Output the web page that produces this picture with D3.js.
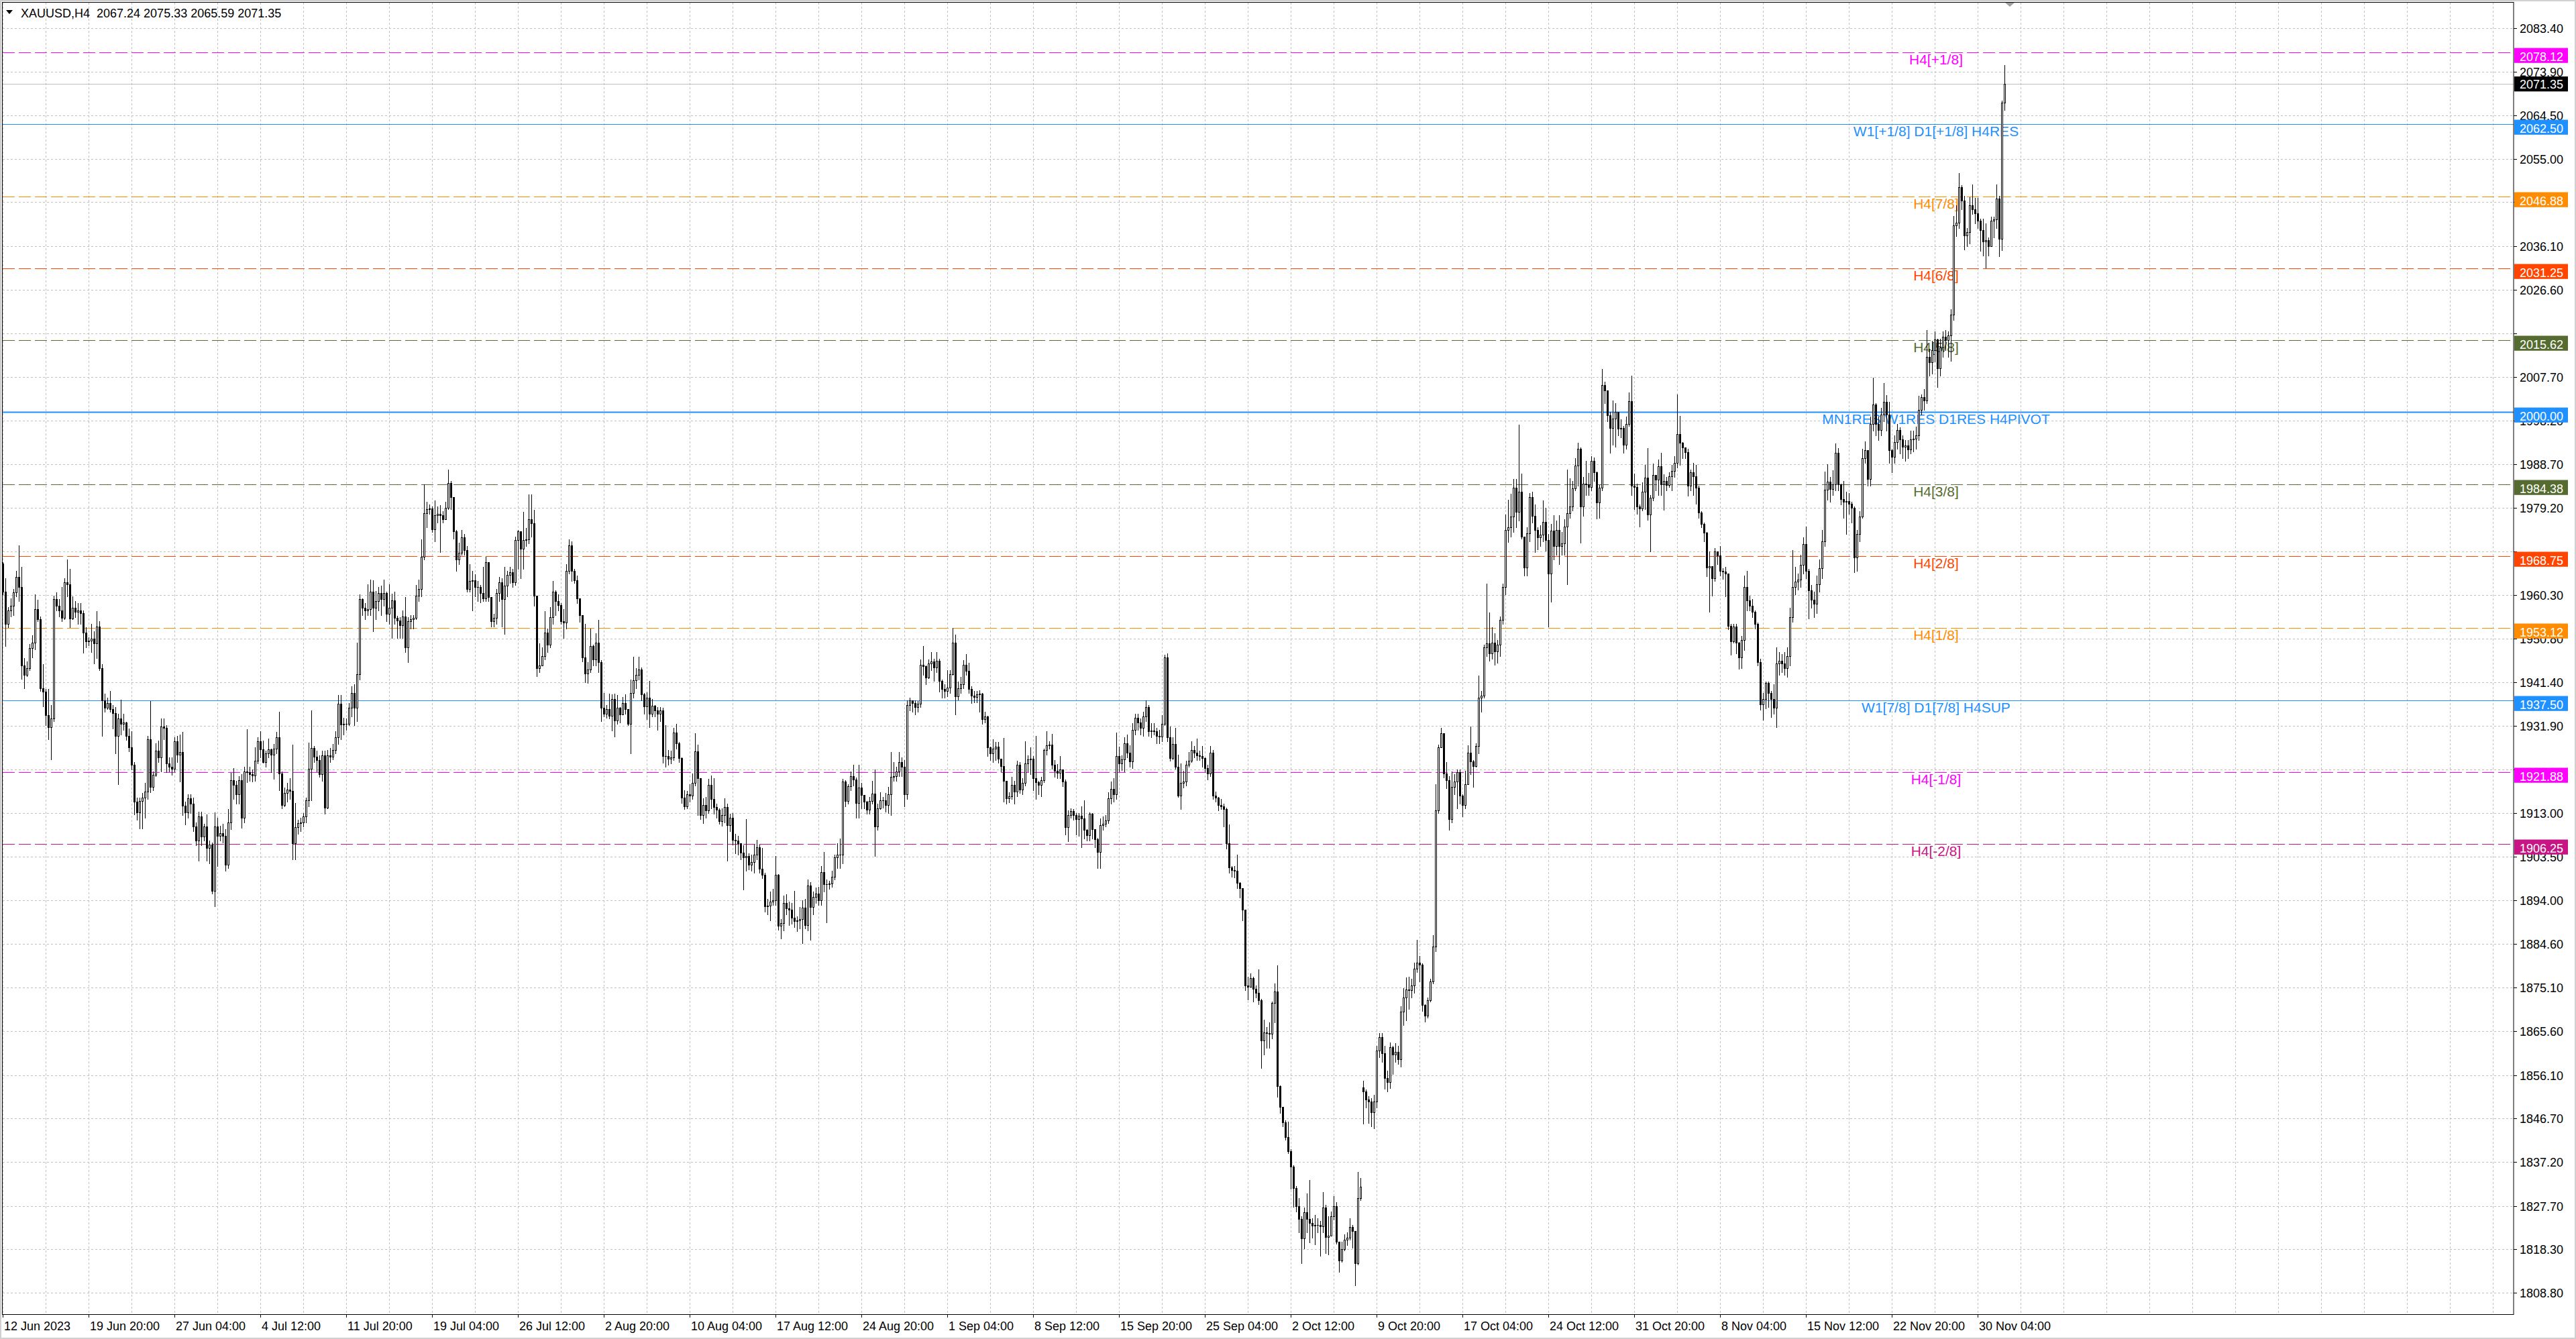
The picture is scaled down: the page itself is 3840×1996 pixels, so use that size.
<!DOCTYPE html>
<html>
<head>
<meta charset="utf-8">
<title>XAUUSD,H4</title>
<script src="https://cdn.jsdelivr.net/npm/d3@7"></script>
<style>
  html, body { margin: 0; padding: 0; background: #fff; overflow: hidden; }
</style>
</head>
<body>
<svg id="chart" width="3840" height="1996"></svg>
<script>
// ---- data ----
const symbolTitle = "XAUUSD,H4  2067.24 2075.33 2065.59 2071.35";
const lastPrice = 2071.35;
const firstOpen = 1967.2;
// weekend gap: the bar that did not open at the previous close
const gapBars = [507];
const gapOpens = [1853.4];

const closes = [
1961.1,1954.1,1957.0,1958.0,1960.9,1964.3,1962.0,1945.0,1943.0,1944.5,
1948.8,1949.9,1957.2,1955.1,1940.0,1939.3,1934.3,1931.6,1933.5,1959.5,
1958.0,1956.9,1955.4,1963.1,1962.6,1955.2,1957.5,1956.6,1957.0,1956.4,
1952.2,1950.2,1950.4,1950.9,1949.8,1953.4,1944.5,1937.4,1935.8,1936.9,
1935.6,1934.7,1929.8,1933.5,1932.3,1932.6,1929.7,1927.3,1923.4,1915.4,
1913.1,1915.6,1916.4,1917.6,1929.0,1918.7,1921.3,1926.5,1925.1,1931.8,
1931.5,1923.7,1923.0,1922.6,1928.5,1925.6,1926.3,1914.6,1913.1,1916.2,
1915.0,1910.0,1907.0,1912.3,1907.9,1910.0,1905.4,1906.2,1896.1,1910.1,
1908.1,1908.6,1908.1,1901.7,1910.9,1920.1,1919.1,1917.0,1920.1,1912.0,
1922.0,1921.8,1921.4,1921.2,1924.3,1928.5,1926.8,1924.1,1925.9,1926.8,
1925.6,1927.0,1929.4,1921.6,1914.8,1917.4,1918.1,1917.8,1906.5,1909.9,
1910.8,1910.9,1912.3,1915.7,1922.6,1927.1,1925.2,1924.5,1921.4,1925.5,
1914.2,1925.5,1925.2,1926.6,1929.4,1936.7,1932.2,1932.4,1932.4,1935.8,
1939.0,1935.8,1943.2,1959.4,1957.5,1956.9,1957.2,1961.0,1957.6,1959.0,
1960.7,1959.5,1960.7,1956.2,1957.6,1959.2,1955.4,1954.8,1953.7,1955.7,
1948.9,1954.7,1955.0,1955.4,1960.2,1961.6,1968.6,1978.1,1978.9,1979.1,
1974.6,1977.7,1977.9,1977.6,1976.7,1979.3,1984.7,1981.6,1974.1,1968.1,
1969.5,1972.9,1970.0,1961.6,1963.3,1963.5,1962.1,1962.0,1960.8,1959.6,
1967.4,1959.9,1954.6,1955.4,1960.8,1963.1,1959.5,1962.4,1964.7,1965.2,
1963.1,1972.2,1974.1,1970.4,1972.2,1972.4,1976.7,1975.9,1960.2,1944.4,
1945.0,1947.0,1952.1,1949.6,1955.5,1961.0,1959.0,1958.1,1954.7,1954.3,
1965.6,1971.1,1965.6,1963.5,1959.6,1956.0,1946.8,1943.3,1944.2,1949.3,
1946.4,1949.9,1945.7,1935.8,1934.6,1935.5,1934.1,1937.8,1933.1,1935.8,
1934.4,1936.8,1935.6,1932.4,1939.1,1941.8,1943.0,1944.2,1938.7,1936.2,
1938.1,1934.5,1936.3,1935.2,1934.5,1935.2,1925.4,1925.3,1924.8,1925.0,
1930.5,1928.1,1924.9,1916.4,1914.5,1917.0,1916.8,1919.6,1926.4,1920.6,
1912.5,1914.7,1913.5,1919.1,1916.1,1914.3,1913.7,1911.2,1912.5,1914.3,
1910.4,1911.9,1907.2,1907.0,1906.5,1904.4,1903.4,1903.6,1901.7,1902.3,
1904.0,1905.5,1900.9,1899.6,1892.8,1892.9,1893.7,1894.0,1899.6,1888.5,
1889.1,1893.4,1892.3,1892.0,1890.3,1889.6,1889.7,1890.0,1892.5,1888.7,
1897.3,1892.6,1894.8,1895.5,1894.1,1900.1,1897.5,1897.6,1897.7,1899.1,
1903.3,1903.9,1904.0,1919.8,1915.6,1918.8,1921.0,1920.3,1915.2,1918.5,
1916.9,1915.4,1913.7,1915.6,1917.2,1910.1,1914.0,1915.8,1915.7,1914.7,
1917.1,1920.8,1921.0,1922.0,1924.0,1923.0,1917.1,1936.5,1937.5,1936.8,
1936.0,1936.7,1945.2,1944.9,1942.4,1945.4,1945.9,1944.6,1946.0,1941.7,
1939.9,1939.5,1940.2,1943.1,1950.0,1938.3,1940.0,1941.0,1945.2,1943.9,
1939.9,1938.4,1938.2,1938.7,1938.9,1933.4,1933.9,1927.3,1925.9,1926.9,
1927.4,1924.8,1923.2,1920.0,1916.2,1916.6,1919.1,1917.6,1923.5,1918.1,
1919.6,1923.7,1924.7,1924.8,1920.5,1919.7,1919.1,1920.1,1926.6,1927.7,
1927.8,1923.5,1922.2,1921.7,1922.4,1919.8,1909.9,1912.5,1913.4,1912.5,
1911.7,1912.4,1911.8,1909.4,1908.2,1912.8,1909.5,1907.3,1904.5,1910.3,
1910.6,1911.4,1916.2,1918.2,1917.0,1925.4,1923.7,1924.7,1928.2,1926.1,
1924.2,1931.1,1933.6,1932.7,1931.5,1933.9,1936.0,1930.8,1930.9,1930.7,
1929.8,1929.6,1932.4,1946.8,1929.4,1924.9,1928.0,1923.1,1916.8,1919.5,
1919.9,1923.5,1924.4,1926.7,1926.1,1925.5,1925.3,1924.9,1922.8,1921.6,
1926.1,1916.8,1916.3,1914.7,1914.5,1913.8,1906.4,1901.2,1900.6,1900.5,
1897.8,1896.7,1892.0,1875.6,1875.3,1877.1,1874.9,1874.0,1872.4,1863.6,
1865.4,1865.2,1865.0,1871.7,1874.2,1853.7,1849.2,1845.9,1842.6,1839.6,
1836.3,1831.6,1827.6,1824.9,1820.6,1826.4,1824.9,1824.0,1823.4,1823.6,
1823.5,1823.3,1827.3,1821.0,1821.2,1825.5,1827.6,1819.9,1815.9,1818.3,
1820.4,1820.8,1823.1,1822.2,1815.3,1829.4,1831.8,1852.5,1850.8,1850.4,
1848.0,1850.4,1861.5,1864.3,1860.9,1855.5,1854.6,1862.1,1860.5,1861.2,
1859.6,1869.9,1872.9,1874.7,1874.5,1875.6,1879.2,1880.5,1880.1,1871.3,
1869.0,1872.4,1876.5,1884.0,1913.6,1927.3,1930.3,1921.6,1920.1,1911.6,
1918.6,1919.9,1921.9,1916.7,1914.7,1919.3,1926.1,1924.2,1923.2,1927.6,
1938.1,1938.5,1948.9,1949.8,1947.7,1950.0,1948.1,1949.5,1954.9,1962.1,
1974.4,1975.0,1977.3,1983.6,1978.3,1982.7,1973.0,1966.3,1973.7,1981.6,
1977.5,1974.4,1972.8,1973.4,1976.2,1972.3,1965.0,1974.3,1971.0,1974.4,
1971.0,1971.5,1975.2,1978.1,1979.5,1983.5,1988.4,1992.0,1979.5,1984.5,
1984.3,1983.8,1989.5,1986.9,1980.4,1983.6,2005.9,2004.8,1999.4,1996.6,
1998.6,2000.1,1996.4,1996.6,1993.0,1997.5,2002.4,1984.1,1983.8,1979.6,
1979.1,1982.8,1985.8,1977.8,1981.4,1986.4,1985.4,1988.2,1984.3,1985.1,
1984.2,1986.1,1987.3,1989.0,1995.2,1993.3,1992.3,1991.4,1984.1,1986.9,
1986.1,1983.6,1978.2,1975.8,1973.8,1966.3,1966.6,1964.0,1969.8,1968.9,
1965.6,1965.4,1965.0,1953.6,1950.3,1953.5,1950.0,1946.8,1950.6,1962.0,
1959.1,1958.0,1956.7,1954.0,1945.8,1936.6,1937.8,1941.2,1939.0,1937.8,
1935.8,1945.5,1946.1,1945.5,1944.4,1947.1,1955.5,1962.0,1963.2,1963.7,
1966.8,1971.4,1965.6,1961.3,1959.3,1958.4,1962.6,1966.1,1971.9,1983.2,
1984.9,1983.3,1984.4,1991.2,1984.4,1981.1,1980.6,1980.7,1980.1,1979.2,
1968.5,1973.6,1977.4,1990.0,1991.7,1985.5,1997.5,2001.6,1997.4,1996.1,
1999.5,2002.2,1999.5,1991.7,1990.3,1993.5,1996.1,1994.1,1992.5,1992.8,
1991.9,1994.1,1994.3,1994.9,2000.5,2003.3,2002.5,2012.0,2010.9,2013.5,
2015.8,2009.6,2014.0,2016.4,2015.6,2016.7,2021.2,2040.6,2041.2,2048.8,
2045.9,2038.4,2039.1,2044.9,2044.0,2043.2,2041.5,2039.6,2037.0,2037.4,
2036.0,2041.5,2041.8,2046.4,2037.7,2067.24,2071.35
];

const highs = [
1967.5,1964.0,1957.7,1959.6,1961.6,1965.5,1971.1,1966.4,1946.6,1945.9,
1949.7,1951.6,1960.5,1959.3,1955.7,1945.3,1939.9,1939.9,1936.5,1960.2,
1960.9,1959.5,1962.0,1964.0,1968.0,1966.0,1960.0,1959.0,1958.5,1958.6,
1957.0,1953.3,1951.2,1954.1,1952.4,1956.8,1954.6,1945.3,1938.9,1938.0,
1939.5,1936.5,1936.0,1934.5,1937.6,1934.5,1932.8,1931.3,1930.8,1924.1,
1916.4,1916.4,1917.3,1919.5,1929.7,1937.3,1922.0,1928.1,1928.7,1933.5,
1933.5,1932.0,1925.0,1925.0,1929.5,1929.7,1930.0,1930.6,1915.5,1917.0,
1917.0,1916.4,1911.0,1913.3,1913.3,1910.7,1912.7,1907.0,1906.6,1913.1,
1912.0,1910.2,1910.7,1909.5,1913.8,1921.7,1922.8,1920.0,1921.0,1921.5,
1923.0,1931.2,1923.0,1922.5,1927.2,1929.5,1930.8,1928.7,1926.5,1929.2,
1927.0,1928.0,1930.6,1935.0,1922.0,1918.5,1919.5,1920.5,1927.8,1915.2,
1911.5,1912.0,1913.0,1916.3,1928.3,1935.2,1927.6,1926.5,1925.5,1926.5,
1926.5,1926.6,1927.1,1928.0,1930.7,1938.6,1938.6,1933.6,1933.5,1936.8,
1940.5,1941.0,1950.0,1960.4,1959.6,1958.5,1962.6,1963.6,1963.5,1961.2,
1962.0,1962.3,1963.6,1961.0,1962.6,1960.6,1961.0,1955.8,1955.5,1957.0,
1959.9,1955.5,1956.0,1956.0,1962.5,1963.6,1972.4,1984.4,1980.5,1980.0,
1979.6,1980.8,1979.6,1979.8,1978.5,1980.5,1987.5,1985.0,1981.4,1974.5,
1971.7,1974.5,1973.6,1971.0,1967.0,1965.5,1964.8,1963.4,1962.5,1966.5,
1968.6,1967.5,1959.9,1956.3,1961.6,1964.3,1964.0,1966.4,1965.5,1966.5,
1966.0,1973.0,1974.5,1974.2,1978.3,1974.9,1982.2,1982.2,1978.8,1960.2,
1949.8,1949.0,1956.8,1953.0,1957.7,1963.4,1961.4,1960.4,1958.5,1957.3,
1967.0,1972.4,1972.0,1966.0,1964.5,1959.4,1956.0,1954.0,1945.7,1953.0,
1949.5,1952.0,1954.9,1946.2,1939.0,1936.5,1938.9,1938.7,1938.9,1938.6,
1936.0,1938.2,1938.8,1935.4,1942.0,1946.9,1944.5,1946.9,1944.6,1939.0,
1939.2,1941.7,1937.8,1936.5,1936.0,1936.0,1935.8,1932.0,1926.6,1926.5,
1931.5,1932.4,1928.4,1925.0,1918.0,1917.8,1919.3,1921.6,1930.3,1927.8,
1920.6,1916.2,1916.5,1920.4,1921.2,1920.6,1915.0,1914.0,1914.0,1916.2,
1915.0,1912.8,1913.0,1908.5,1908.0,1906.5,1906.0,1911.7,1904.2,1904.0,
1906.1,1907.1,1906.1,1905.4,1900.0,1894.3,1896.0,1896.5,1903.6,1899.8,
1890.0,1895.0,1895.4,1893.8,1893.5,1896.1,1890.5,1892.6,1894.0,1894.3,
1898.5,1898.0,1896.0,1896.8,1897.0,1901.5,1904.6,1898.5,1898.3,1900.5,
1904.0,1906.5,1907.5,1920.4,1920.1,1919.3,1922.0,1923.4,1920.7,1923.4,
1919.6,1916.8,1915.6,1916.5,1920.0,1922.5,1915.0,1917.5,1916.5,1917.4,
1918.7,1926.2,1924.0,1923.0,1926.3,1925.0,1924.5,1937.5,1938.1,1937.5,
1937.5,1937.3,1946.3,1949.2,1945.0,1946.3,1947.9,1946.5,1947.9,1946.5,
1942.0,1941.0,1944.0,1944.0,1953.2,1951.7,1941.5,1942.5,1946.2,1947.5,
1945.6,1940.5,1939.5,1939.5,1939.6,1939.1,1935.0,1934.1,1927.4,1929.0,
1928.4,1928.4,1924.8,1929.3,1920.0,1917.5,1920.8,1920.0,1924.4,1924.0,
1920.5,1928.6,1925.5,1927.3,1925.4,1929.7,1920.0,1920.8,1927.0,1930.8,
1928.5,1930.2,1924.5,1923.6,1925.4,1922.5,1920.2,1913.5,1914.0,1913.8,
1913.0,1913.0,1914.5,1915.8,1909.5,1913.2,1913.0,1909.5,1907.6,1911.8,
1912.2,1912.6,1917.5,1919.8,1920.6,1930.5,1927.4,1925.5,1929.5,1930.0,
1927.7,1932.5,1934.5,1934.5,1933.5,1935.0,1937.5,1936.4,1932.5,1932.5,
1931.5,1931.0,1934.2,1947.4,1947.6,1931.7,1929.5,1931.5,1925.7,1923.7,
1922.2,1924.4,1926.2,1928.6,1927.6,1929.2,1926.5,1927.6,1925.0,1923.5,
1927.6,1926.6,1917.6,1916.5,1916.0,1915.0,1914.2,1910.5,1901.5,1901.5,
1904.0,1898.0,1896.7,1892.0,1877.4,1878.2,1877.5,1875.5,1879.0,1872.6,
1868.2,1866.5,1867.5,1872.0,1876.0,1879.9,1853.8,1848.3,1846.3,1846.0,
1840.0,1836.5,1832.0,1829.4,1825.5,1827.3,1830.4,1833.3,1825.0,1825.7,
1825.0,1824.5,1830.7,1828.0,1825.4,1826.5,1829.8,1828.5,1820.0,1820.0,
1821.5,1822.0,1825.0,1823.5,1822.3,1835.1,1833.8,1854.9,1853.0,1851.5,
1851.1,1851.8,1862.5,1865.2,1865.2,1862.5,1857.0,1863.2,1862.5,1863.0,
1862.5,1871.0,1875.0,1877.3,1877.5,1877.0,1880.5,1885.4,1882.0,1880.3,
1871.5,1873.0,1877.0,1886.5,1919.3,1927.9,1931.5,1928.6,1924.0,1921.0,
1922.0,1921.5,1922.5,1922.5,1917.0,1922.1,1927.7,1931.7,1924.5,1928.1,
1942.8,1939.5,1949.5,1962.8,1956.5,1953.3,1952.0,1950.5,1955.7,1962.8,
1977.8,1981.0,1982.3,1985.5,1985.5,1997.3,1986.7,1972.0,1975.0,1982.5,
1982.8,1980.0,1975.0,1975.5,1980.9,1979.2,1973.5,1975.7,1977.6,1976.5,
1977.6,1974.0,1976.7,1987.5,1985.7,1985.0,1990.0,1993.4,1992.4,1986.0,
1989.5,1986.8,1990.5,1990.1,1987.1,1984.2,2009.4,2006.6,2004.6,2000.0,
2002.5,2002.0,1999.0,1998.5,1997.0,1999.0,2004.3,2008.0,1986.7,1984.5,
1980.0,1984.8,1988.5,1992.2,1982.0,1988.9,1986.4,1989.7,1991.2,1986.5,
1986.0,1987.0,1988.5,1990.5,2003.9,1999.2,1993.5,1992.3,1992.0,1987.5,
1989.0,1988.5,1984.0,1978.5,1976.0,1974.0,1969.8,1966.6,1970.5,1969.7,
1971.0,1966.2,1966.5,1965.0,1954.0,1954.0,1954.0,1950.1,1951.5,1964.5,
1965.5,1960.1,1959.5,1957.0,1954.3,1946.5,1939.0,1941.5,1941.5,1939.5,
1941.0,1949.0,1948.0,1947.5,1948.0,1949.0,1957.5,1970.0,1966.5,1965.0,
1969.0,1972.9,1975.2,1966.0,1962.5,1961.0,1964.5,1968.0,1974.5,1987.1,
1988.7,1986.0,1987.4,1993.2,1992.2,1984.5,1985.0,1982.8,1982.5,1980.5,
1979.5,1974.5,1978.5,1992.0,1993.6,1991.7,1999.0,2007.5,2002.0,1999.0,
2001.0,2006.4,2003.7,2002.2,1992.0,1995.0,1997.5,1996.7,1995.0,1994.0,
1994.0,1996.0,1996.0,1996.8,2003.6,2003.9,2005.0,2017.8,2013.7,2015.5,
2017.5,2016.0,2016.0,2017.5,2017.8,2017.6,2022.4,2042.6,2044.9,2051.9,
2049.3,2047.0,2040.0,2046.6,2049.4,2046.5,2046.5,2042.0,2042.0,2041.0,
2038.0,2042.5,2042.5,2049.5,2047.0,2067.6,2075.33
];

const lows = [
1960.5,1949.2,1953.3,1955.7,1956.0,1960.0,1959.0,1942.1,1940.0,1942.7,
1944.0,1946.8,1948.5,1954.7,1939.5,1936.1,1932.1,1929.0,1924.7,1933.0,
1957.0,1955.7,1954.7,1955.0,1960.0,1953.3,1955.0,1955.5,1954.0,1954.0,
1947.8,1949.0,1949.4,1947.9,1945.4,1946.6,1944.0,1929.7,1935.0,1935.5,
1935.0,1931.4,1926.0,1919.3,1930.0,1931.0,1928.9,1926.4,1922.5,1912.7,
1911.5,1909.6,1909.6,1912.0,1916.0,1917.5,1918.0,1921.0,1924.0,1922.0,
1929.0,1921.8,1922.0,1921.3,1922.0,1924.0,1919.8,1912.5,1910.5,1912.0,
1913.0,1909.0,1906.0,1902.7,1906.0,1907.0,1902.7,1902.0,1895.5,1892.8,
1901.5,1907.0,1906.6,1900.5,1901.0,1909.5,1916.0,1915.0,1915.0,1909.8,
1911.0,1919.7,1920.0,1919.8,1920.0,1923.8,1925.0,1923.9,1923.0,1925.0,
1921.8,1920.4,1926.0,1918.0,1914.0,1914.5,1915.5,1916.0,1902.9,1902.9,
1908.5,1909.0,1910.0,1911.0,1914.5,1915.8,1924.0,1922.0,1920.9,1920.0,
1912.8,1914.0,1924.0,1924.7,1926.0,1928.0,1929.0,1930.0,1931.0,1932.0,
1934.0,1932.0,1933.0,1942.0,1956.0,1955.0,1956.0,1956.0,1952.5,1955.0,
1957.0,1956.0,1958.0,1954.6,1954.0,1951.0,1954.0,1951.0,1951.0,1951.0,
1948.0,1945.7,1953.0,1953.0,1955.0,1959.0,1960.0,1968.0,1975.0,1978.0,
1974.0,1972.0,1976.0,1969.7,1976.0,1977.0,1979.0,1979.0,1972.5,1965.5,
1967.0,1969.0,1969.0,1961.0,1961.0,1956.9,1960.0,1959.0,1958.7,1959.0,
1959.0,1959.0,1953.4,1953.4,1954.0,1959.0,1953.5,1951.8,1960.0,1963.0,
1962.0,1962.5,1966.0,1963.9,1966.0,1971.0,1971.5,1973.0,1958.0,1942.7,
1943.6,1945.0,1946.4,1948.0,1949.0,1954.0,1956.0,1957.0,1954.0,1951.0,
1953.0,1965.0,1963.4,1963.0,1958.6,1954.5,1945.9,1941.4,1941.3,1943.5,
1945.0,1945.0,1943.6,1932.9,1934.0,1933.7,1933.5,1930.9,1929.6,1932.3,
1932.6,1935.0,1934.6,1932.0,1925.9,1938.0,1940.0,1942.0,1937.5,1934.5,
1933.4,1931.6,1934.0,1934.0,1931.1,1933.0,1923.9,1923.1,1923.5,1923.7,
1924.5,1927.0,1924.0,1915.1,1913.9,1914.0,1915.5,1916.0,1919.0,1912.6,
1911.6,1910.8,1912.0,1913.0,1914.0,1912.8,1912.0,1910.6,1910.2,1911.0,
1902.7,1909.0,1906.2,1904.3,1904.0,1903.0,1896.4,1900.4,1900.8,1900.5,
1900.0,1903.0,1900.0,1898.9,1891.6,1891.0,1889.7,1893.0,1893.0,1887.6,
1885.7,1887.5,1891.0,1888.6,1889.0,1888.2,1887.4,1888.0,1884.8,1887.9,
1887.5,1885.5,1891.0,1893.5,1893.0,1893.0,1896.0,1889.2,1896.6,1897.0,
1898.5,1901.0,1901.0,1902.0,1914.4,1915.0,1918.0,1919.0,1911.9,1911.9,
1914.0,1914.0,1912.8,1912.9,1915.0,1903.6,1909.4,1913.9,1914.2,1913.3,
1913.0,1912.6,1920.0,1920.0,1921.0,1921.0,1914.4,1916.0,1935.2,1934.9,
1934.4,1935.0,1936.0,1943.0,1941.0,1942.3,1944.0,1941.6,1943.5,1939.3,
1938.0,1938.0,1938.3,1939.0,1943.0,1934.4,1937.6,1939.0,1940.0,1943.0,
1939.0,1936.8,1937.0,1937.0,1935.0,1932.3,1932.6,1925.3,1924.5,1924.0,
1924.5,1923.9,1922.0,1915.4,1915.0,1915.3,1916.0,1915.0,1916.6,1917.3,
1917.1,1919.0,1922.0,1921.5,1918.0,1916.1,1917.0,1916.6,1919.7,1925.6,
1927.0,1922.6,1920.9,1920.6,1920.5,1918.8,1908.3,1906.8,1912.0,1911.5,
1908.3,1908.0,1905.6,1907.5,1907.0,1907.0,1907.5,1905.5,1901.1,1901.1,
1909.3,1910.0,1910.8,1915.0,1915.5,1916.0,1922.0,1922.3,1922.0,1925.0,
1923.0,1922.8,1930.0,1931.0,1930.0,1929.8,1933.0,1929.8,1929.5,1930.0,
1928.2,1928.1,1928.5,1932.0,1928.5,1924.4,1924.6,1922.6,1916.5,1913.9,
1918.5,1919.0,1923.0,1924.0,1925.0,1924.5,1924.5,1923.0,1922.0,1920.2,
1921.0,1916.0,1915.5,1913.5,1913.8,1910.0,1905.2,1900.0,1899.2,1899.0,
1896.7,1894.7,1889.7,1874.5,1872.5,1875.5,1872.0,1873.0,1871.5,1857.7,
1860.5,1862.0,1862.0,1864.0,1867.5,1851.4,1847.9,1845.0,1842.0,1839.2,
1831.5,1827.5,1826.5,1821.9,1815.2,1818.5,1822.0,1819.8,1820.8,1819.3,
1822.0,1816.9,1822.0,1817.4,1817.2,1821.5,1824.7,1819.5,1813.4,1815.5,
1818.0,1819.2,1820.4,1818.6,1810.5,1815.0,1829.0,1845.6,1849.0,1845.7,
1845.0,1844.6,1849.0,1860.0,1859.0,1853.2,1852.5,1853.3,1856.4,1859.0,
1858.5,1858.0,1867.0,1868.0,1870.5,1873.0,1874.0,1878.5,1876.5,1870.0,
1867.7,1868.5,1872.0,1876.0,1883.0,1913.0,1927.3,1920.7,1918.3,1909.3,
1911.0,1917.0,1914.0,1915.0,1912.3,1914.0,1919.3,1921.5,1918.6,1923.0,
1926.0,1935.0,1938.0,1947.0,1946.0,1946.5,1945.2,1945.6,1947.0,1954.0,
1960.5,1971.8,1973.0,1974.0,1975.0,1976.5,1972.5,1964.5,1964.5,1972.0,
1976.0,1969.7,1970.2,1971.0,1972.0,1969.9,1953.4,1958.9,1968.0,1969.0,
1967.0,1969.0,1969.0,1962.6,1977.0,1978.6,1983.0,1984.0,1971.7,1977.5,
1982.0,1982.0,1983.0,1985.0,1976.9,1977.0,1983.0,2002.0,1998.0,1991.2,
1993.0,1992.5,1995.0,1994.6,1991.2,1992.0,1997.0,1982.0,1978.9,1978.0,
1975.1,1978.7,1979.0,1976.6,1969.8,1980.8,1983.0,1982.0,1982.0,1978.8,
1983.0,1983.8,1983.0,1986.0,1988.0,1988.6,1990.0,1990.0,1981.9,1983.0,
1982.0,1980.1,1977.0,1975.0,1972.0,1964.4,1956.7,1960.2,1963.4,1967.0,
1964.6,1963.8,1960.0,1952.9,1947.3,1950.0,1947.6,1944.3,1944.5,1948.4,
1957.0,1956.9,1955.5,1953.0,1945.0,1935.4,1933.2,1935.7,1936.0,1933.8,
1934.5,1931.6,1943.0,1943.5,1943.0,1942.5,1945.0,1954.5,1960.5,1961.5,
1962.0,1965.0,1964.0,1955.2,1957.5,1955.5,1956.4,1961.0,1964.0,1971.0,
1981.0,1980.5,1982.0,1983.0,1983.0,1980.0,1977.0,1973.6,1978.0,1976.0,
1965.3,1965.6,1972.0,1977.0,1989.0,1984.0,1984.0,1996.0,1995.0,1994.0,
1995.0,1998.0,1996.0,1989.0,1986.9,1989.0,1992.0,1991.0,1990.0,1989.5,
1990.0,1991.0,1991.5,1992.0,1994.0,1999.5,2000.5,2002.0,2008.0,2008.4,
2011.0,2005.5,2008.0,2012.0,2013.5,2012.0,2011.2,2020.0,2038.2,2040.0,
2044.0,2035.3,2036.0,2036.6,2043.0,2041.0,2040.0,2035.0,2034.0,2031.4,
2034.0,2036.0,2038.0,2040.0,2033.9,2035.2,2065.59
];

const priceTicks = [
2083.40,2073.90,2064.50,2055.00,2045.60,2036.10,2026.60,2017.10,2007.70,1998.20,
1988.70,1979.20,1969.80,1960.30,1950.80,1941.40,1931.90,1922.40,1913.00,1903.50,
1894.00,1884.60,1875.10,1865.60,1856.10,1846.70,1837.20,1827.70,1818.30,1808.80
];

// one label every 32 bars, starting at the first bar
const dateLabels = [
"12 Jun 2023","19 Jun 20:00","27 Jun 04:00","4 Jul 12:00","11 Jul 20:00","19 Jul 04:00",
"26 Jul 12:00","2 Aug 20:00","10 Aug 04:00","17 Aug 12:00","24 Aug 20:00","1 Sep 04:00",
"8 Sep 12:00","15 Sep 20:00","25 Sep 04:00","2 Oct 12:00","9 Oct 20:00","17 Oct 04:00",
"24 Oct 12:00","31 Oct 20:00","8 Nov 04:00","15 Nov 12:00","22 Nov 20:00","30 Nov 04:00"
];

// Murrey-math style levels drawn by the indicator
const levelPrices = [2078.12,2062.50,2046.88,2031.25,2015.62,2000.00,1984.38,1968.75,1953.12,1937.50,1921.88,1906.25];
const levelNames = ["H4[+1/8]","W1[+1/8] D1[+1/8] H4RES","H4[7/8]","H4[6/8]","H4[5/8]",
  "MN1RES W1RES D1RES H4PIVOT","H4[3/8]","H4[2/8]","H4[1/8]","W1[7/8] D1[7/8] H4SUP","H4[-1/8]","H4[-2/8]"];
const levelColors = ["#FF00FF","#1E90FF","#FF8C00","#FF4500","#556B2F","#1E90FF",
  "#556B2F","#FF4500","#FF8C00","#1E90FF","#FF00FF","#C71585"];
const levelSolid = [false,true,false,false,false,true,false,false,false,true,false,false];

// ---- layout ----
const plotL = 4, plotT = 4, plotR = 3747, plotB = 1959;
const barStep = 4;
const labelFont = "'Liberation Sans', Arial, sans-serif";

const svg = d3.select('#chart');

const x = d3.scaleLinear()
  .domain([0, closes.length - 1])
  .range([plotL, plotL + barStep * (closes.length - 1)]);
const y = d3.scaleLinear()
  .domain([1804.2, 2088.9])
  .range([plotB, plotT]);

const px = i => Math.round(x(i));
const py = v => Math.round(y(v));

const bars = closes.map((c, i) => {
  let o = i === 0 ? firstOpen : closes[i - 1];
  const g = gapBars.indexOf(i);
  if (g >= 0) o = gapOpens[g];
  return { i: i, o: o, h: highs[i], l: lows[i], c: c };
});

svg.append('rect')
  .attr('width', 3840).attr('height', 1996)
  .attr('fill', '#fff');

svg.append('defs').append('clipPath').attr('id', 'plotClip')
  .append('rect')
  .attr('x', plotL).attr('y', plotT)
  .attr('width', plotR - plotL).attr('height', plotB - plotT);

// grid
const grid = svg.append('g')
  .attr('stroke', '#c0c0c0')
  .attr('stroke-width', 1)
  .attr('stroke-dasharray', '3,3');

grid.selectAll('line.v')
  .data(d3.range(0, 944, 16))
  .join('line')
  .attr('class', 'v')
  .attr('x1', d => px(d) + 0.5).attr('x2', d => px(d) + 0.5)
  .attr('y1', plotT).attr('y2', plotB);

grid.selectAll('line.h')
  .data(priceTicks)
  .join('line')
  .attr('class', 'h')
  .attr('x1', plotL).attr('x2', plotR)
  .attr('y1', d => py(d) + 0.5).attr('y2', d => py(d) + 0.5);

// level lines + captions
const levels = levelPrices.map((p, k) => ({
  p: p, name: levelNames[k], color: levelColors[k], solid: levelSolid[k]
}));

svg.append('g').selectAll('line')
  .data(levels)
  .join('line')
  .attr('x1', plotL).attr('x2', plotR)
  .attr('y1', d => py(d.p) + 0.5).attr('y2', d => py(d.p) + 0.5)
  .attr('stroke', d => d.color)
  .attr('stroke-width', d => d.p === 2000 ? 2 : 1)
  .attr('stroke-dasharray', d => d.solid ? null : '18,6');

// current price line
svg.append('line')
  .attr('x1', plotL).attr('x2', plotR)
  .attr('y1', py(lastPrice) + 0.5).attr('y2', py(lastPrice) + 0.5)
  .attr('stroke', '#c0c0c0').attr('stroke-width', 1);

svg.append('g').selectAll('text')
  .data(levels)
  .join('text')
  .attr('x', 2886)
  .attr('y', d => py(d.p) + 18)
  .attr('text-anchor', 'middle')
  .attr('font-family', labelFont)
  .attr('font-size', '21px')
  .attr('fill', d => d.color)
  .text(d => d.name);

// candles
const candles = svg.append('g')
  .attr('clip-path', 'url(#plotClip)')
  .selectAll('g')
  .data(bars)
  .join('g');

candles.append('line')
  .attr('x1', d => px(d.i) + 0.5).attr('x2', d => px(d.i) + 0.5)
  .attr('y1', d => py(Math.max(d.h, d.o, d.c)))
  .attr('y2', d => py(Math.min(d.l, d.o, d.c)) + 1)
  .attr('stroke', '#000')
  .attr('stroke-width', 1);

candles.append('rect')
  .each(function (d) {
    const top = py(Math.max(d.o, d.c));
    const bot = py(Math.min(d.o, d.c));
    const r = d3.select(this);
    if (d.c > d.o && bot - top >= 2) {
      r.attr('x', px(d.i) - 0.5).attr('y', top + 0.5)
        .attr('width', 2).attr('height', bot - top)
        .attr('fill', '#fff').attr('stroke', '#000').attr('stroke-width', 1);
    } else {
      r.attr('x', px(d.i) - 1).attr('y', top)
        .attr('width', 3).attr('height', Math.max(1, bot - top + 1))
        .attr('fill', '#000');
    }
  });

// frame
svg.append('rect')
  .attr('x', 1).attr('y', 1).attr('width', 3838).attr('height', 1994)
  .attr('fill', 'none').attr('stroke', '#d0d0d0').attr('stroke-width', 2);
svg.append('rect')
  .attr('x', plotL - 0.5).attr('y', plotT - 0.5)
  .attr('width', plotR - plotL + 0.5).attr('height', plotB - plotT + 1)
  .attr('fill', 'none').attr('stroke', '#000').attr('stroke-width', 1);

// price axis
const yAxis = svg.append('g');
yAxis.selectAll('line')
  .data(priceTicks)
  .join('line')
  .attr('x1', plotR).attr('x2', plotR + 5)
  .attr('y1', d => py(d) + 0.5).attr('y2', d => py(d) + 0.5)
  .attr('stroke', '#000');
yAxis.selectAll('text')
  .data(priceTicks.filter(t => !levelPrices.some(p => Math.abs(p - t) < 1.5)))
  .join('text')
  .attr('x', 3756)
  .attr('y', d => py(d) + 6.5)
  .attr('font-family', labelFont)
  .attr('font-size', '18px')
  .attr('fill', '#000')
  .text(d => d3.format('.2f')(d));

// date axis
const dateTicks = dateLabels.map((t, k) => ({ t: t, i: 32 * k }));
const xAxis = svg.append('g');
xAxis.selectAll('line')
  .data(dateTicks)
  .join('line')
  .attr('x1', d => px(d.i) + 0.5).attr('x2', d => px(d.i) + 0.5)
  .attr('y1', plotB).attr('y2', plotB + 5)
  .attr('stroke', '#000');
xAxis.selectAll('text')
  .data(dateTicks)
  .join('text')
  .attr('x', d => px(d.i) + 2)
  .attr('y', 1983)
  .attr('font-family', labelFont)
  .attr('font-size', '18px')
  .attr('fill', '#000')
  .text(d => d.t);

// price tags for the levels
const tags = svg.append('g').selectAll('g')
  .data(levels)
  .join('g');
tags.append('rect')
  .attr('x', 3748).attr('y', d => py(d.p) - 6.5)
  .attr('width', 80).attr('height', 22.3)
  .attr('fill', d => d.color);
tags.append('text')
  .attr('x', 3756).attr('y', d => py(d.p) + 13)
  .attr('font-family', labelFont)
  .attr('font-size', '18px')
  .attr('fill', '#fff')
  .text(d => d3.format('.2f')(d.p));

// last price tag
svg.append('rect')
  .attr('x', 3748).attr('y', py(lastPrice) - 11)
  .attr('width', 80).attr('height', 22.3)
  .attr('fill', '#000');
svg.append('text')
  .attr('x', 3756).attr('y', py(lastPrice) + 6.5)
  .attr('font-family', labelFont)
  .attr('font-size', '18px')
  .attr('fill', '#fff')
  .text(d3.format('.2f')(lastPrice));

// header
svg.append('path')
  .attr('d', 'M9,15 L19,15 L14,21 Z')
  .attr('fill', '#000');
svg.append('text')
  .attr('x', 31).attr('y', 26)
  .attr('font-family', labelFont)
  .attr('font-size', '18px')
  .attr('fill', '#000')
  .style('white-space', 'pre')
  .attr('xml:space', 'preserve')
  .text(symbolTitle);

// chart shift marker
const shiftX = px(closes.length - 1) + 8;
svg.append('path')
  .attr('d', `M${shiftX - 7},4 L${shiftX + 7},4 L${shiftX},10 Z`)
  .attr('fill', '#a0a0a0');
</script>
</body>
</html>
